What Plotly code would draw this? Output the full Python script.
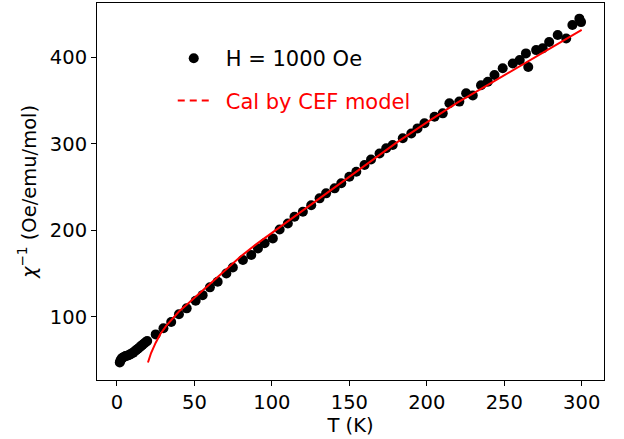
import plotly.graph_objects as go

# Measured data: H = 1000 Oe
T_data = [1.8, 2.2, 2.8, 3.5, 4.5, 5.5, 6.5, 7.5, 8.5, 9.5, 10.5, 11.5, 12.5, 13.5,
          14.5, 15.5, 16.5, 17.5, 18.5, 19.5, 25, 30, 35, 40, 45, 50.8, 55.3, 60,
          65, 70.6, 74.8, 81.3, 86.7, 91, 95.3, 100.6, 105, 110.3, 114.6, 120,
          125.4, 130.8, 135, 140.5, 144.8, 150, 154.5, 159.8, 164, 169.5, 173.8,
          178, 184.5, 190, 194, 198.5, 205, 210.3, 214.6, 221, 225.4, 229.7, 235,
          239.4, 243.7, 249, 255.5, 260, 264, 265.5, 270.6, 274.8, 279, 284.5,
          290, 294, 298.5, 299.6]
chi_inv = [47, 49, 51, 52.5, 53.5, 54.5, 55, 55.5, 56.5, 57.5, 58.5, 60, 61.5, 63,
           64.5, 66, 67.5, 69, 70.5, 72, 79.6, 86.6, 94, 102.8, 109.7, 118.5, 125,
           134, 140.5, 150, 157, 165.6, 171.4, 179, 185, 190.7, 201, 208, 215.7,
           221.5, 229, 237, 242.8, 248.6, 254.4, 262, 267.8, 275.6, 282, 289, 295,
           298.7, 306.5, 312, 318, 324, 331.5, 335.4, 347, 349, 358.6, 356, 368,
           372, 379.7, 387.5, 393, 397, 404.8, 389, 408.6, 410.6, 418, 426, 422,
           437.6, 445, 441]

# CEF model calculation
T_cef = [20, 22, 25, 28, 32, 36, 40, 45, 50, 60, 70, 80, 90, 100, 120, 140, 160,
         180, 200, 220, 240, 260, 280, 300]
chi_cef = [47, 58, 70, 80, 90, 98, 106, 114, 122, 139, 155, 170, 184, 197, 224,
           250, 276, 301, 325, 348, 369, 390, 411, 432]

x_ticks = [0, 50, 100, 150, 200, 250, 300]
y_ticks = [100, 200, 300, 400]

FONT = "DejaVu Sans"

fig = go.Figure()
fig.add_trace(go.Scatter(
    x=T_data, y=chi_inv, mode="markers", name="H = 1000 Oe",
    marker=dict(color="black", size=10, line=dict(width=0)),
    legend="legend"))
fig.add_trace(go.Scatter(
    x=T_cef, y=chi_cef, mode="lines", name="Cal by CEF model",
    line=dict(color="red", width=2), showlegend=False))
fig.add_trace(go.Scatter(
    x=[None], y=[None], mode="lines", name="Cal by CEF model",
    line=dict(color="red", width=2, dash="7px,5px,7px,5px,7px,200px"),
    legend="legend2"))

axis_common = dict(
    showgrid=False, zeroline=False, showline=True, linecolor="black",
    linewidth=1, mirror=True, ticks="outside", ticklen=5, tickwidth=1,
    tickcolor="black", tickfont=dict(family=FONT, size=19.5, color="black"),
    automargin=False,
)

fig.update_xaxes(range=[-12.9, 314.4], tickvals=x_ticks,
                 title=dict(text="T (K)", font=dict(family=FONT, size=19.5, color="black"),
                            standoff=2),
                 **axis_common)
fig.update_yaxes(range=[26.8, 463.1], tickvals=y_ticks,
                 title=dict(text="<i>χ</i><sup>−1</sup> (Oe/emu/mol)",
                            font=dict(family=FONT, size=19.5, color="black"),
                            standoff=8),
                 **axis_common)

legend_font = dict(family=FONT, size=21, color="black")
fig.update_layout(
    width=624, height=439,
    margin=dict(l=97, r=20, t=3, b=59),
    plot_bgcolor="white", paper_bgcolor="white",
    font=dict(family=FONT, color="black"),
    legend=dict(x=0.1277, y=0.907, xanchor="left", yanchor="top",
                font=legend_font, bgcolor="rgba(0,0,0,0)", itemwidth=54),
    legend2=dict(x=0.1494, y=0.795, xanchor="left", yanchor="top",
                 font=dict(family=FONT, size=21, color="red"),
                 bgcolor="rgba(0,0,0,0)", itemwidth=43),
)

fig.write_html("out.html", config={"displayModeBar": False},
               post_script="document.body.style.margin='0px';document.body.style.overflow='hidden';")
